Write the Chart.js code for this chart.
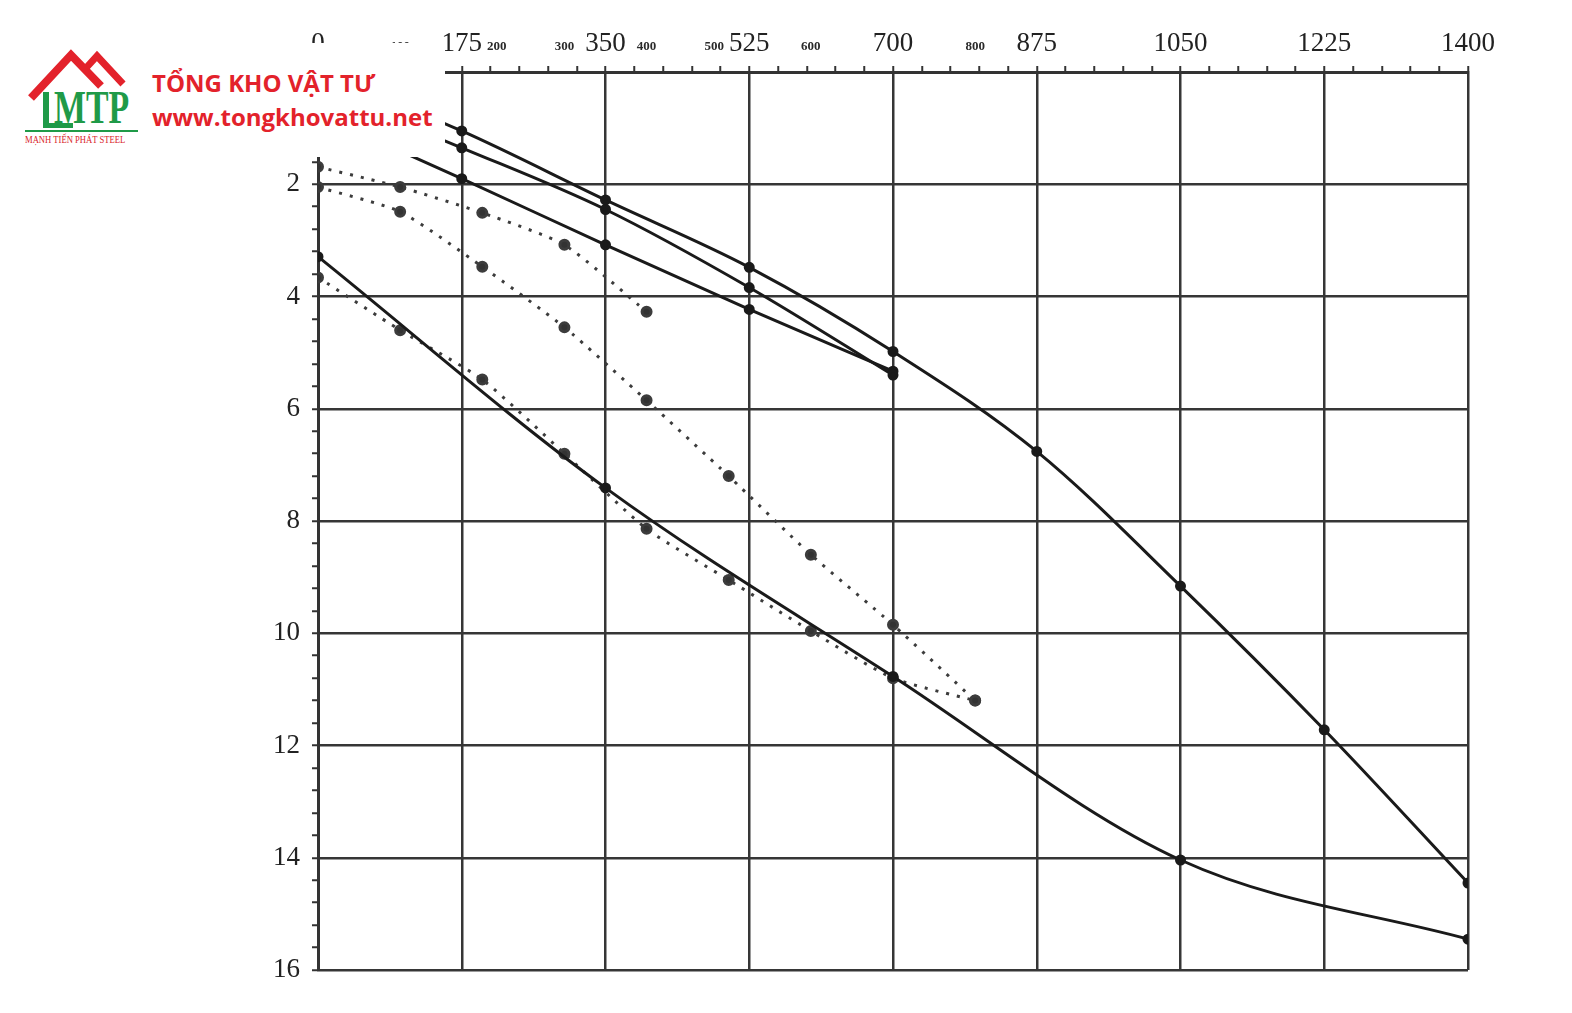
<!DOCTYPE html>
<html>
<head>
<meta charset="utf-8">
<script src="https://cdn.jsdelivr.net/npm/chart.js@4.4.1/dist/chart.umd.min.js"></script>
<style>
  html, body { margin:0; padding:0; background:#fff; }
  #wrap { position:relative; width:1572px; height:1013px; overflow:hidden; }
  canvas { position:absolute; left:0; top:0; }
  #logoBox { position:absolute; left:0; top:43px; width:445px; height:114px; background:#fff; }
  #roof { position:absolute; left:0; top:0; }
  .mtp { position:absolute; left:54px; top:80px; font-family:"Liberation Serif", serif; font-weight:bold; font-size:47px; color:#1f9a48; transform:scale(0.72,1); transform-origin:left top; }
  .lbar { position:absolute; background:#1f9a48; }
  .steel { position:absolute; left:25px; top:134px; font-family:"Liberation Serif", serif; font-size:10px; color:#d9252c; white-space:nowrap; transform:scale(0.86,1); transform-origin:left top; }
  .t1 { position:absolute; left:152px; top:66px; font-family:"Open Sans", sans-serif; font-weight:bold; font-size:24px; color:#e3222b; white-space:nowrap; }
  .t2 { position:absolute; left:152px; top:100px; font-family:"Open Sans", sans-serif; font-weight:bold; font-size:24px; color:#e3222b; white-space:nowrap; }
</style>
</head>
<body>
<div id="wrap">
  <canvas id="c" width="1572" height="1013"></canvas>
  <div id="logoBox"></div>
  <svg id="roof" width="450" height="160">
    <polyline points="31,98 71,55 101,86" fill="none" stroke="#e3222b" stroke-width="8" stroke-linejoin="miter"/>
    <polyline points="86,68 97,56 123,84" fill="none" stroke="#e3222b" stroke-width="7" stroke-linejoin="miter"/>
  </svg>
  <div class="lbar" style="left:43px;top:92px;width:6px;height:36px;"></div>
  <div class="lbar" style="left:43px;top:123px;width:30px;height:5px;"></div>
  <div class="mtp">MTP</div>
  <div class="lbar" style="left:25px;top:130px;width:113px;height:2px;"></div>
  <div class="steel">MẠNH TIẾN PHÁT STEEL</div>
  <div class="t1">TỔNG KHO VẬT TƯ</div>
  <div class="t2">www.tongkhovattu.net</div>
</div>
<script>
// ---- data ----
const xFull = [0, 175, 350, 525, 700, 875, 1050, 1225, 1400];
const curveA = [0.0, 1.05, 2.28, 3.48, 4.98, 6.76, 9.16, 11.72, 14.45];
const xShort = [0, 175, 350, 525, 700];
const curveB = [0.3, 1.35, 2.45, 3.84, 5.4];
const curveC = [0.75, 1.9, 3.08, 4.23, 5.33];
const xLow = [0, 350, 700, 1050, 1400];
const curveD = [3.29, 7.41, 10.77, 14.04, 15.45];
const xDotted = [0, 100, 200, 300, 400, 500, 600, 700, 800];
const dottedE = [1.69, 2.05, 2.51, 3.08, 4.27];
const dottedF = [2.05, 2.49, 3.47, 4.55, 5.85, 7.2, 8.6, 9.85, 11.2];
const dottedG = [3.66, 4.6, 5.48, 6.8, 8.14, 9.05, 9.96, 10.8, 11.2];
const xMajorStep = 175;
const xMinorStep = 35;
const yMajorStep = 2;
const yMinorStep = 0.4;
const xSubLabels = [100, 200, 300, 400, 500, 600, 800];

function pts(xs, ys) { return ys.map((v, i) => ({ x: xs[i], y: v })); }

const ink = '#1a1a1a';
const gridInk = '#363636';
const labelFont = { family: '"Liberation Serif", serif', size: 27 };

function solid(data) {
  return { data, showLine: true, borderColor: ink, backgroundColor: ink, borderWidth: 3,
    pointRadius: 4, pointHoverRadius: 4, cubicInterpolationMode: 'monotone', fill: false };
}
function dotted(data) {
  return { data, showLine: true, borderColor: '#3c3c3c', backgroundColor: '#333', borderWidth: 3,
    borderDash: [3, 8], pointRadius: 4.5, pointHoverRadius: 4.5, tension: 0.2, fill: false };
}

const isMult = (v, s) => Math.abs(v - Math.round(v / s) * s) < 1e-6;

const subLabelPlugin = {
  id: 'subLabels',
  afterDraw(chart) {
    const xs = chart.scales.x, ctx = chart.ctx;
    ctx.save();
    ctx.font = '27px "Liberation Serif"';
    const majors = [];
    for (let v = 0; v <= 1400; v += xMajorStep) {
      const c = xs.getPixelForValue(v), w = ctx.measureText(String(v)).width;
      majors.push({ c, l: c - w / 2, r: c + w / 2 });
    }
    ctx.font = 'bold 13px "Liberation Serif"';
    ctx.fillStyle = '#2a2a2a';
    ctx.textBaseline = 'middle';
    ctx.textAlign = 'left';
    xSubLabels.forEach(v => {
      const w = ctx.measureText(String(v)).width;
      const c = xs.getPixelForValue(v);
      let l = c - w / 2;
      majors.forEach(m => {
        if (l < m.r + 3 && l + w > m.l - 3) {
          l = c > m.c ? m.r + 5 : m.l - w - 5;
        }
      });
      ctx.fillText(String(v), l, xs.bottom - 25);
    });
    ctx.restore();
  }
};

new Chart(document.getElementById('c'), {
  type: 'scatter',
  data: {
    datasets: [
      solid(pts(xFull, curveA)),
      solid(pts(xShort, curveB)),
      solid(pts(xShort, curveC)),
      solid(pts(xLow, curveD)),
      dotted(pts(xDotted, dottedE)),
      dotted(pts(xDotted, dottedF)),
      dotted(pts(xDotted, dottedG))
    ]
  },
  options: {
    responsive: false,
    animation: false,
    events: [],
    layout: { padding: { left: 0, right: 104, top: 0, bottom: 43 } },
    plugins: { legend: { display: false }, tooltip: { enabled: false } },
    scales: {
      x: {
        type: 'linear', position: 'top', min: 0, max: 1400,
        afterFit: s => { s.height = 72; },
        afterBuildTicks: s => { const t = []; for (let v = 0; v <= 1400 + 1e-9; v += xMinorStep) t.push({ value: v }); s.ticks = t; },
        ticks: { autoSkip: false, maxRotation: 0, padding: 6, color: '#222', font: labelFont,
          callback: v => isMult(v, xMajorStep) ? String(Math.round(v)) : '' },
        grid: { color: c => (c.tick && isMult(c.tick.value, xMajorStep)) ? gridInk : 'rgba(0,0,0,0)',
          lineWidth: 2.5, tickColor: '#333', tickLength: 6, tickWidth: 2 },
        border: { color: '#333', width: 3 }
      },
      y: {
        type: 'linear', reverse: true, min: 0, max: 16,
        afterFit: s => { s.width = 318; },
        afterBuildTicks: s => { const t = []; for (let i = 0; i <= 40; i++) t.push({ value: i * yMinorStep }); s.ticks = t; },
        ticks: { autoSkip: false, padding: 12, color: '#222', font: labelFont,
          callback: v => (isMult(v, yMajorStep) && v > 0.1) ? String(Math.round(v)) : '' },
        grid: { color: c => (c.tick && isMult(c.tick.value, yMajorStep)) ? gridInk : 'rgba(0,0,0,0)',
          lineWidth: 2.5, tickColor: '#333', tickLength: 6, tickWidth: 2 },
        border: { color: '#333', width: 3 }
      }
    }
  },
  plugins: [subLabelPlugin]
});
</script>
</body>
</html>
